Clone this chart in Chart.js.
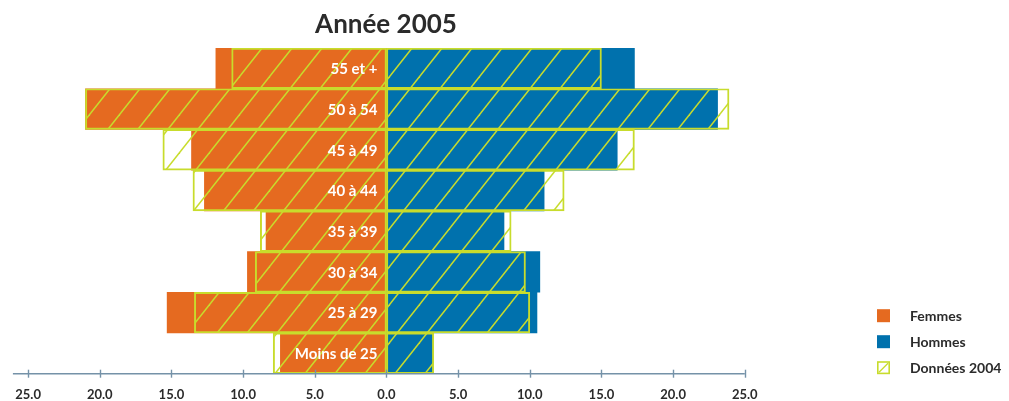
<!DOCTYPE html>
<html>
<head>
<meta charset="utf-8">
<script src="https://cdn.jsdelivr.net/npm/chart.js@4"></script>
<style>
html,body{margin:0;padding:0;background:#fff;}
#wrap{width:1009px;height:401px;position:relative;}
</style>
</head>
<body>
<div id="wrap"><canvas id="c" width="1009" height="401"></canvas></div>
<script>
const categories = ['55 et +', '50 à 54', '45 à 49', '40 à 44', '35 à 39', '30 à 34', '25 à 29', 'Moins de 25'];
const femmes2005 = [11.9, 21.0, 13.6, 12.7, 8.4, 9.7, 15.3, 7.4];
const hommes2005 = [17.3, 23.1, 16.1, 11.0, 8.2, 10.7, 10.5, 3.25];
const femmes2004 = [10.8, 21.0, 15.6, 13.5, 8.8, 9.15, 13.4, 7.9];
const hommes2004 = [15.0, 23.9, 17.3, 12.4, 8.7, 9.7, 10.0, 3.3];
const tickValues = [-25, -20, -15, -10, -5, 0, 5, 10, 15, 20, 25];
const seriesLabels = ['Femmes', 'Hommes', 'Données 2004'];
const titleText = 'Année 2005';

const ORANGE = '#e56a20';
const BLUE = '#0071ad';
const GREEN = '#c8dc2c';
const AXIS = '#7592a8';
const TEXT = '#2b2b2b';
const FONT = 'Lato, "Open Sans", sans-serif';

function makeHatch() {
  const w = 30, h = 38;
  const t = document.createElement('canvas');
  t.width = w; t.height = h;
  const g = t.getContext('2d');
  g.strokeStyle = GREEN;
  g.lineWidth = 1.5;
  for (const dx of [-w, 0, w]) {
    g.beginPath();
    g.moveTo(dx - w, 2 * h);
    g.lineTo(dx + 2 * w, -h);
    g.stroke();
  }
  return document.getElementById('c').getContext('2d').createPattern(t, 'repeat');
}
const hatch = makeHatch();

const barLabelsPlugin = {
  id: 'barLabels',
  afterDatasetsDraw(chart) {
    const {ctx, scales: {x, y}} = chart;
    ctx.save();
    ctx.font = 'bold 15px ' + FONT;
    ctx.fillStyle = '#ffffff';
    ctx.textAlign = 'right';
    ctx.textBaseline = 'middle';
    const x0 = x.getPixelForValue(0);
    categories.forEach((c, i) => {
      ctx.fillText(c, x0 - 9, y.getPixelForValue(i) + 1);
    });
    ctx.restore();
  }
};

const axisPlugin = {
  id: 'axisLine',
  afterDraw(chart) {
    const {ctx, chartArea, scales: {x}} = chart;
    const yb = chartArea.bottom;
    ctx.save();
    ctx.strokeStyle = AXIS;
    ctx.lineWidth = 1.6;
    ctx.beginPath();
    ctx.moveTo(chartArea.left, yb);
    ctx.lineTo(x.getPixelForValue(tickValues[tickValues.length - 1]), yb);
    ctx.stroke();
    ctx.lineWidth = 1.4;
    tickValues.forEach(v => {
      const px = Math.round(x.getPixelForValue(v)) + 0.5;
      ctx.beginPath();
      ctx.moveTo(px, yb - 4);
      ctx.lineTo(px, yb + 4);
      ctx.stroke();
    });
    ctx.restore();
  }
};

const legendPlugin = {
  id: 'customLegend',
  afterDraw(chart) {
    const {ctx} = chart;
    const lx = 877, tx = 910, ys = [315.7, 341.7, 367.7], s = 13;
    ctx.save();
    ctx.font = 'bold 14px ' + FONT;
    ctx.textBaseline = 'middle';
    ctx.textAlign = 'left';
    seriesLabels.forEach((lab, i) => {
      const top = ys[i] - s / 2;
      if (i === 0) { ctx.fillStyle = ORANGE; ctx.fillRect(lx, top, s, s); }
      else if (i === 1) { ctx.fillStyle = BLUE; ctx.fillRect(lx, top, s, s); }
      else {
        ctx.fillStyle = '#fff'; ctx.fillRect(lx, top, s, s);
        ctx.strokeStyle = GREEN; ctx.lineWidth = 1.6;
        ctx.strokeRect(lx + 0.8, top + 0.8, s - 1.6, s - 1.6);
        ctx.lineWidth = 1.3;
        ctx.beginPath(); ctx.moveTo(lx + 2, top + s - 2); ctx.lineTo(lx + s - 2, top + 2); ctx.stroke();
      }
      ctx.fillStyle = TEXT;
      ctx.fillText(lab, tx, ys[i] + 1);
    });
    ctx.restore();
  }
};

new Chart(document.getElementById('c'), {
  type: 'bar',
  data: {
    labels: categories,
    datasets: [
      { label: seriesLabels[0], data: femmes2005.map(v => -v), backgroundColor: ORANGE, borderWidth: 0, order: 2 },
      { label: seriesLabels[1], data: hommes2005, backgroundColor: BLUE, borderWidth: 0, order: 2 },
      { label: seriesLabels[2], data: femmes2004.map(v => -v), backgroundColor: hatch, borderColor: GREEN, borderWidth: 1.3, borderSkipped: false, order: 1 },
      { label: seriesLabels[2] + ' H', data: hommes2004, backgroundColor: hatch, borderColor: GREEN, borderWidth: 1.3, borderSkipped: false, order: 1 }
    ]
  },
  options: {
    indexAxis: 'y',
    responsive: false,
    animation: false,
    datasets: { bar: { grouped: false, barPercentage: 1, categoryPercentage: 1 } },
    layout: { padding: { left: 12, right: 249, top: 0, bottom: -15.7 } },
    scales: {
      x: {
        type: 'linear',
        min: -26.06,
        max: 26.06,
        afterBuildTicks(scale) { scale.ticks = tickValues.map(v => ({ value: v })); },
        grid: { display: false, drawTicks: false },
        border: { display: false },
        ticks: {
          autoSkip: false,
          maxRotation: 0,
          padding: 15,
          color: TEXT,
          font: { family: FONT, size: 13, weight: 'bold', lineHeight: 1 },
          callback: v => Math.abs(v).toFixed(1)
        }
      },
      y: {
        type: 'category',
        display: false
      }
    },
    plugins: {
      legend: { display: false },
      tooltip: { enabled: false },
      title: {
        display: true,
        text: titleText,
        color: TEXT,
        font: { family: FONT, size: 26, weight: 'bold', lineHeight: 1.2 },
        padding: { top: 9, bottom: 7.8 }
      }
    }
  },
  plugins: [barLabelsPlugin, axisPlugin, legendPlugin]
});
</script>
</body>
</html>
